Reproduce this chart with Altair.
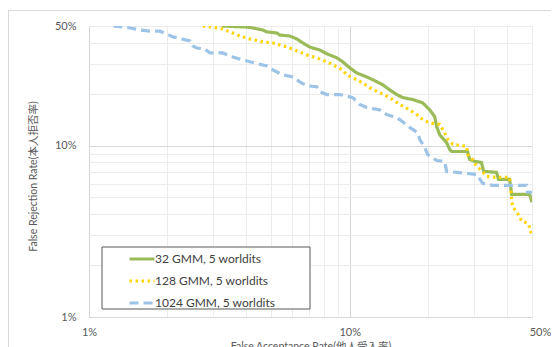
import altair as alt
import pandas as pd

series_names = ["32 GMM, 5 worldits", "128 GMM, 5 worldits", "1024 GMM, 5 worldits"]
series_colors = ["#9bbb59", "#ffd400", "#9dc3e6"]

tick_values = [1, 2, 3, 4, 5, 6, 7, 8, 9, 10, 20, 30, 40, 50]

green_x = [3.23, 4.03, 4.25, 4.64, 4.81, 5.25, 5.39, 5.89, 6.27, 6.61, 7.03, 7.21, 7.67, 8.17, 8.92,
           9.40, 10.0, 10.63, 11.62, 12.25, 13.37, 14.23, 15.14, 15.96, 17.43, 19.05, 20.26, 21.17,
           21.55, 22.13, 23.54, 24.17, 24.6, 28.31, 28.8, 30.12, 32.0, 32.6, 36.56, 37.2, 41.03,
           41.78, 48.94, 50.0]
green_y = [50, 49.3, 48.7, 47.4, 46.2, 45.5, 44.3, 43.7, 42.0, 39.8, 37.7, 37.2, 36.2, 34.4, 32.6,
           30.9, 28.5, 26.6, 25.2, 24.3, 22.7, 21.2, 19.9, 19.1, 18.6, 17.8, 16.2, 14.8, 12.9, 11.6,
           10.4, 9.51, 9.25, 9.25, 8.32, 8.10, 7.99, 7.08, 6.99, 6.36, 6.36, 5.20, 5.20, 4.67]

yellow_x = [2.73, 2.99, 3.26, 3.56, 3.79, 4.14, 4.64, 5.07, 5.74, 6.27, 6.84, 7.47, 8.17, 8.92, 9.40,
            9.74, 10.27, 11.21, 11.93, 13.03, 14.23, 15.55, 16.98, 18.06, 19.05, 20.26, 22.13, 23.12,
            23.74, 24.81, 28.07, 28.31, 29.58, 30.67, 32.33, 33.50, 36.56, 41.03, 41.78, 42.14,
            43.65, 44.80, 45.60, 48.08, 48.94, 50.0]
yellow_y = [50, 49.3, 48.0, 45.5, 43.7, 42.0, 40.4, 39.8, 37.7, 35.8, 33.9, 32.6, 30.9, 28.9, 27.7,
            25.9, 24.9, 23.3, 21.8, 20.4, 19.1, 17.4, 16.2, 15.2, 14.2, 13.6, 13.3, 11.9, 10.9, 10.2,
            9.90, 8.89, 8.32, 7.57, 7.08, 6.62, 6.53, 6.53, 4.87, 4.43, 4.09, 3.88, 3.63, 3.53, 3.35,
            2.93]

blue_x = [1.24, 1.44, 1.57, 1.71, 1.87, 1.99, 2.10, 2.27, 2.44, 2.50, 2.59, 2.78, 2.91, 3.26, 3.56,
          3.89, 4.14, 4.81, 5.07, 5.54, 6.05, 6.43, 6.84, 7.47, 7.67, 8.17, 9.16, 10.27, 10.92, 11.62,
          13.03, 13.86, 15.14, 15.96, 16.98, 18.22, 18.55, 19.38, 19.90, 21.55, 23.12, 23.54, 25.70,
          30.67, 32.33, 35.31, 47.64, 48.08, 50.0]
blue_y = [50, 48.7, 47.4, 46.7, 46.7, 44.9, 43.2, 42.0, 40.9, 38.3, 37.2, 36.7, 34.8, 34.8, 33.0,
          31.7, 30.9, 29.2, 27.7, 25.9, 25.2, 23.6, 22.4, 22.1, 20.7, 19.9, 19.9, 19.1, 17.4, 16.7,
          16.2, 15.2, 14.6, 13.8, 12.8, 11.9, 10.9, 9.77, 8.89, 8.20, 8.10, 7.08, 6.99, 6.80, 6.03,
          5.87, 5.87, 5.35, 5.35]

rows = []
for name, xs, ys in zip(series_names, [green_x, yellow_x, blue_x], [green_y, yellow_y, blue_y]):
    for i, (a, b) in enumerate(zip(xs, ys)):
        rows.append({"series": name, "far": a, "frr": b, "idx": i})
df = pd.DataFrame(rows)

FONT = "Lato, 'Noto Sans CJK JP', sans-serif"
TXT = "#595959"
label_expr = "(datum.value == 1 || datum.value == 10 || datum.value == 50) ? datum.value + '%' : ''"
grid_col = alt.condition("datum.value == 10 || datum.value == 1", alt.value("#d6d6d6"), alt.value("#ececec"))

x_axis = alt.Axis(values=tick_values, labelExpr=label_expr, grid=True, gridColor=grid_col,
                  domain=False, ticks=False, labelFlush=False, labelPadding=15,
                  labelBaseline="middle", labelFont=FONT, labelFontSize=11, labelColor=TXT,
                  labelOffset=alt.condition("datum.value == 50", alt.value(8), alt.value(0)),
                  title="False Acceptance Rate(他人受入率)", titleFont=FONT, titleFontSize=10.5,
                  titleFontWeight="normal", titleColor=TXT, titleY=29, titleBaseline="middle")
y_axis = alt.Axis(values=tick_values, labelExpr=label_expr, grid=True, gridColor=grid_col,
                  domain=False, ticks=False, labelFlush=False, labelPadding=13,
                  labelFont=FONT, labelFontSize=11, labelColor=TXT,
                  title="False Rejection Rate(本人拒否率)", titleFont=FONT, titleFontSize=10.5,
                  titleFontWeight="normal", titleColor=TXT, titleX=-56, titleY=150,
                  titleAngle=-90, titleAlign="center", titleBaseline="middle")

legend_opts = dict(orient="none", legendX=45, legendY=225, title=None,
                   symbolType="M-2,0H2", symbolSize=156, symbolStrokeWidth=3,
                   labelFont=FONT, labelFontSize=12, labelColor="#404040",
                   labelOffset=5, rowPadding=8, padding=0)

lines = alt.Chart(df).mark_line(strokeWidth=3.2, clip=True).encode(
    x=alt.X("far:Q", scale=alt.Scale(type="log", domain=[1, 50], nice=False), axis=x_axis),
    y=alt.Y("frr:Q", scale=alt.Scale(type="log", domain=[1, 50], nice=False), axis=y_axis),
    color=alt.Color("series:N", scale=alt.Scale(domain=series_names, range=series_colors),
                    legend=alt.Legend(**legend_opts)),
    strokeDash=alt.StrokeDash("series:N", scale=alt.Scale(domain=series_names,
                                                          range=[[1, 0], [2.5, 3.5], [9, 5]]),
                              legend=alt.Legend(**legend_opts)),
    order=alt.Order("idx:Q"),
)

box_df = pd.DataFrame({"k": [0]})
legend_box = alt.Chart(box_df).mark_rect(fill="white", stroke="#595959", strokeWidth=1).encode(
    x=alt.value(13), x2=alt.value(221), y=alt.value(221), y2=alt.value(283))

frame_v = alt.Chart(box_df).mark_rule(color="#d9d9d9", strokeWidth=1).encode(
    x=alt.value(-80.5), y=alt.value(-16), y2=alt.value(330))
frame_h = alt.Chart(box_df).mark_rule(color="#d9d9d9", strokeWidth=1).encode(
    x=alt.value(-80.5), x2=alt.value(470), y=alt.value(-15.5))

chart = alt.layer(frame_v, frame_h, legend_box, lines).properties(
    width=443, height=291,
    autosize=alt.AutoSizeParams(type="none"),
    padding={"left": 81, "top": 18, "right": 19, "bottom": 30},
).configure_view(stroke=None).configure(background="white")

chart.save("out.html", embed_options={"renderer": "svg", "actions": False})
